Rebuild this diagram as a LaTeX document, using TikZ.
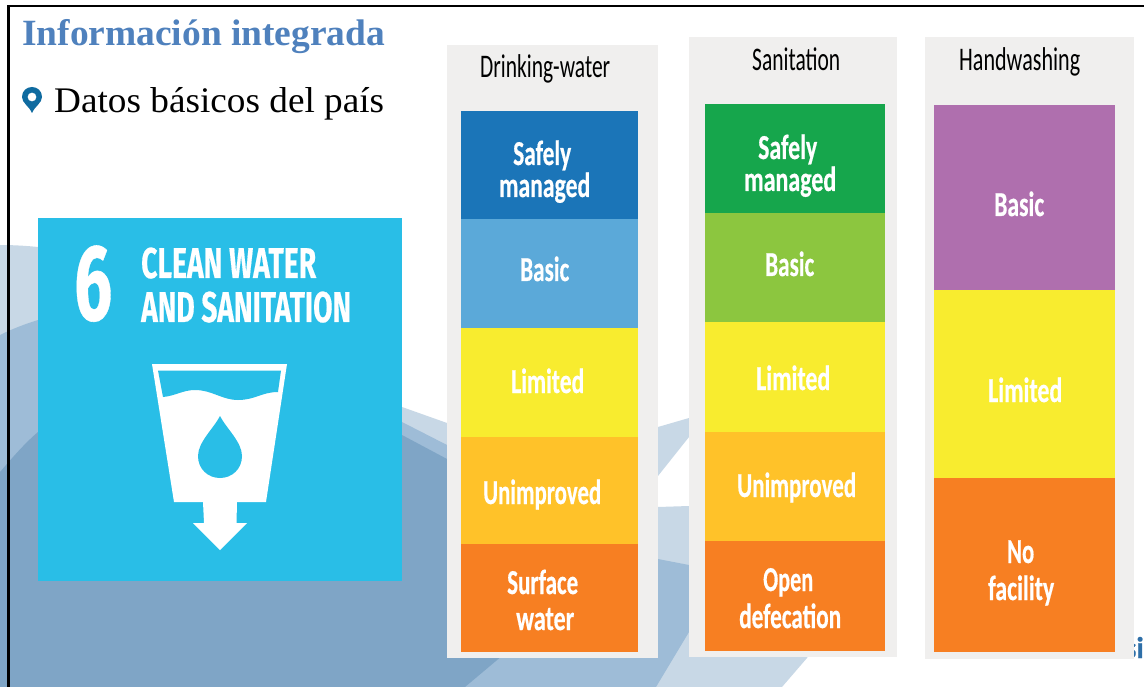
\documentclass[tikz,border=0pt]{standalone}
\usepackage{graphicx}
\usepackage{fontspec}
\setmainfont{Liberation Serif}
\newfontfamily\carl[BoldFeatures={FakeBold=0.6}]{Carlito}
\newfontfamily\fira[BoldFeatures={FakeBold=0.5}]{Fira Sans}
\definecolor{bglight}{HTML}{C8D8E6}
\definecolor{bgmid}{HTML}{9EBCD7}
\definecolor{bgdark}{HTML}{7FA5C6}
\definecolor{sdg}{HTML}{29BEE7}
\definecolor{panel}{HTML}{F0EFEE}
\definecolor{titleblue}{HTML}{4F81BD}
\definecolor{pinblue}{HTML}{0F6BA0}
\definecolor{wblue}{HTML}{1B75B8}
\definecolor{wlight}{HTML}{5BA9D9}
\definecolor{yel}{HTML}{F8EC2F}
\definecolor{amber}{HTML}{FFC229}
\definecolor{orng}{HTML}{F77F22}
\definecolor{sgreen}{HTML}{16A64C}
\definecolor{lgreen}{HTML}{8CC63F}
\definecolor{purp}{HTML}{AF6FAE}
\definecolor{sitext}{HTML}{2E6FA8}
\newcommand\fitw[2]{\setbox0=\hbox{#2}\pgfmathsetmacro\fitr{#1/\the\wd0}\scalebox{\fitr}[1]{\box0}}
\newcommand\txt[6]{\node[lab,#5] (#1) at (#2,#4) {\pgfmathsetmacro\fitwd{#3-#2}\fitw{\fitwd}{#6}};}
\tikzset{
  lab/.style={inner sep=0pt,anchor=base west},
  colbold/.style={text=white,font=\carl\bfseries\fontsize{35}{35}\selectfont},
  colhead/.style={text=black,font=\carl\fontsize{33}{33}\selectfont},
  sdgtxt/.style={text=white,font=\fira\bfseries\fontsize{43}{43}\selectfont},
  panelbox/.style={fill=panel,draw=none},
  bar/.style={draw=none},
  frameline/.style={draw=black,line width=2.4pt}
}
\begin{document}
\begin{tikzpicture}[x=1pt,y=-1pt]
\useasboundingbox (0,0) rectangle (1144,687);
\fill[white] (0,0) rectangle (1144,687);
% background waves
\fill[bglight] (0,245) .. controls (15,245) and (28,246) .. (38,247) -- (402,407) -- (447,423) -- (658,427) -- (689,418) -- (705,416) -- (689,437) -- (650,486) -- (650,507) -- (658,507) -- (689,506) -- (720,505) -- (815,645) -- (807,658) -- (782,687) -- (0,687) -- cycle;
\fill[bgmid] (0,335) .. controls (12,329) and (25,324) .. (38,320) -- (402,422) -- (447,445) -- (658,559) -- (689,565) -- (700,567) -- (700,613) -- (689,632) -- (656,687) -- (0,687) -- cycle;
\fill[bgdark] (0,472) .. controls (12,458) and (25,443) .. (38,432) -- (402,435) -- (447,459) -- (480,640) -- (499.5,658) -- (465,687) -- (0,687) -- cycle;
% si text behind third panel
\node[inner sep=0pt,anchor=base east,text=sitext,font=\carl\bfseries\fontsize{30}{30}\selectfont] (si) at (1144,658) {si};
% frame
\draw[frameline] (8.6,687) -- (8.6,5.8) -- (1144,5.8);
% titles
\txt{title}{22}{385}{46}{text=titleblue,font=\bfseries\fontsize{37}{37}\selectfont}{Información integrada}
\fill[pinblue,even odd rule] (32,113) .. controls (29,106) and (22,103) .. (22,97) .. controls (22,91) and (26.5,87) .. (32,87) .. controls (37.5,87) and (42,91) .. (42,97) .. controls (42,103) and (35,106) .. (32,113) -- cycle (36.5,97) arc[start angle=0,end angle=360,radius=4.5];
\txt{datos}{54}{384}{113}{text=black,font=\fontsize{36}{36}\selectfont}{Datos básicos del país}
% SDG tile
\fill[sdg] (38,218) rectangle (402,581);
\node[lab,sdgtxt,font=\fira\bfseries\fontsize{108}{108}\selectfont] (six) at (74,320) {\fitw{38}{6}};
\txt{clean}{141}{316}{278}{sdgtxt}{CLEAN WATER}
\txt{andsan}{141}{351}{322}{sdgtxt}{AND SANITATION}
\fill[white] (152,364) -- (287,364) -- (266,502) -- (237,502) -- (236.5,523) -- (247,523) -- (220,550) -- (193,523) -- (204,523) -- (203,502) -- (174,502) -- cycle;
\fill[sdg] (158,370.5) -- (281,370.5) -- (278,392) .. controls (262,392) and (255,400) .. (238,400) .. controls (222,400) and (212,390) .. (195,390) .. controls (183,390) and (175,396) .. (163,397) -- cycle;
\fill[sdg] (220,416) .. controls (226,428) and (242,442) .. (242,456) .. controls (242,469) and (232,478) .. (220,478) .. controls (208,478) and (198,469) .. (198,456) .. controls (198,442) and (214,428) .. (220,416) -- cycle;
% panels
\fill[panelbox] (447,45) rectangle (658,658);
\fill[panelbox] (689,37) rectangle (897,657);
\fill[panelbox] (925,37) rectangle (1134,659);
% column 1
\fill[bar,wblue] (461,111) rectangle (638,220);
\fill[bar,wlight] (461,219.5) rectangle (638,328);
\fill[bar,yel] (461,327.5) rectangle (638,437);
\fill[bar,amber] (461,436.5) rectangle (638,544);
\fill[bar,orng] (461,543.5) rectangle (638,652);
% column 2
\fill[bar,sgreen] (705,104) rectangle (885,214);
\fill[bar,lgreen] (705,213.5) rectangle (885,323);
\fill[bar,yel] (705,322) rectangle (885,432);
\fill[bar,amber] (705,431.5) rectangle (885,541.5);
\fill[bar,orng] (705,541) rectangle (885,651);
% column 3
\fill[bar,purp] (934,105) rectangle (1115,290.5);
\fill[bar,yel] (934,290) rectangle (1115,478.5);
\fill[bar,orng] (934,478) rectangle (1115,652);
% column labels
\txt{h1}{480}{610}{78}{colhead}{Drinking-water}
\txt{a1}{513}{571}{165}{colbold}{Safely}
\txt{a2}{499}{590}{197}{colbold}{managed}
\txt{a3}{520}{569}{281}{colbold}{Basic}
\txt{a4}{511}{584}{393}{colbold}{Limited}
\txt{a5}{483}{601}{504}{colbold}{Unimproved}
\txt{a6}{507}{578}{594}{colbold}{Surface}
\txt{a7}{516}{574}{630}{colbold}{water}
\txt{h2}{752}{840}{71}{colhead}{Sanitation}
\txt{b1}{758}{817}{159}{colbold}{Safely}
\txt{b2}{744}{836}{191}{colbold}{managed}
\txt{b3}{765}{814}{276}{colbold}{Basic}
\txt{b4}{756}{830}{390}{colbold}{Limited}
\txt{b5}{737}{856}{497}{colbold}{Unimproved}
\txt{b6}{763}{813}{591}{colbold}{Open}
\txt{b7}{739}{841}{628}{colbold}{defecation}
\txt{h3}{959}{1080}{71}{colhead}{Handwashing}
\txt{c1}{994}{1044}{216}{colbold}{Basic}
\txt{c2}{988}{1062}{402}{colbold}{Limited}
\txt{c3}{1007}{1034}{563}{colbold}{No}
\txt{c4}{988}{1054}{600}{colbold}{facility}
\end{tikzpicture}
\end{document}
